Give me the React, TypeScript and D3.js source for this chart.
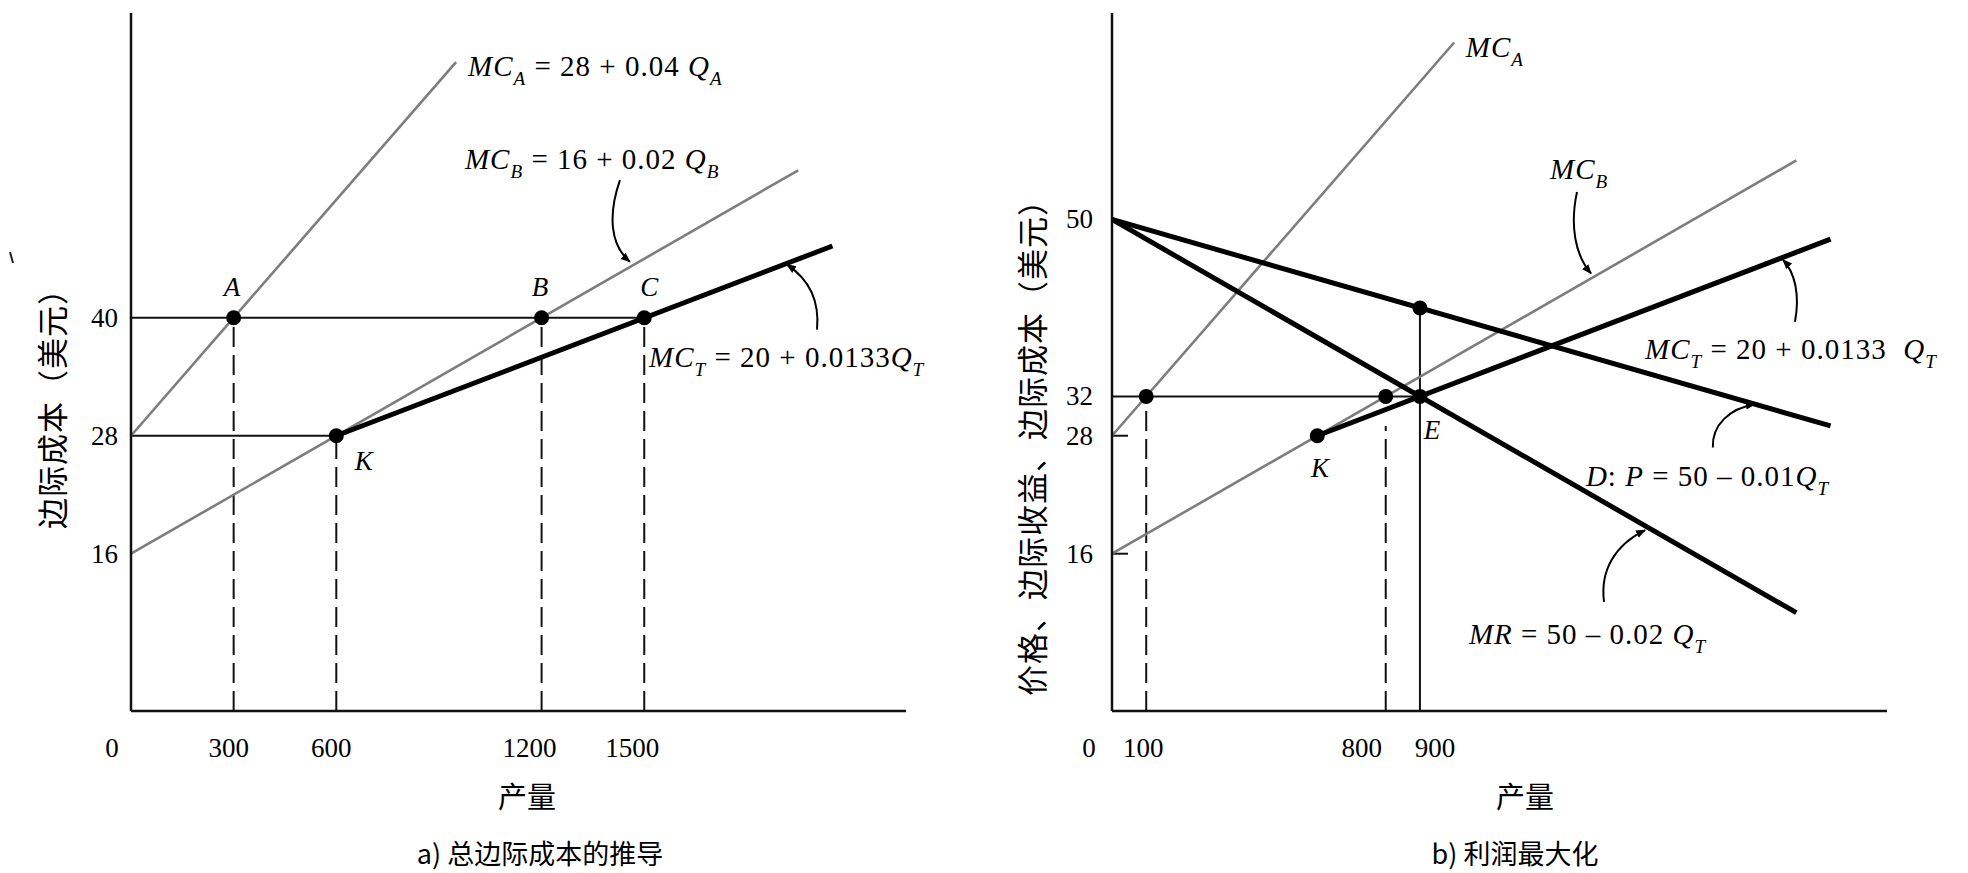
import * as d3 from 'd3';

// axis extents (same for both panels)
const Q_MAX = 2265;
const P_MAX = 71;

// panel a) tick labels
const qTicksA = [0, 300, 600, 1200, 1500];
const pTicksA = [16, 28, 40];
// panel b) tick labels
const qTicksB = [0, 100, 800, 900];
const pTicksB = [16, 28, 32, 50];

// curves, as [Q, P] end points
const mcA_a: [number, number][] = [[0, 28], [950, 66]];
const mcB_a: [number, number][] = [[0, 16], [1950, 55]];
const mcT_a: [number, number][] = [[600, 28], [2050, 47.3]];

const mcA_b: [number, number][] = [[0, 28], [1000, 68]];
const mcB_b: [number, number][] = [[0, 16], [2000, 56]];
const mcT_b: [number, number][] = [[600, 28], [2100, 48]];
const demand_b: [number, number][] = [[0, 50], [2100, 29]];
const mr_b: [number, number][] = [[0, 50], [2000, 10]];

// points
const pointsA = [
  { name: 'A', q: 300, p: 40 },
  { name: 'B', q: 1200, p: 40 },
  { name: 'C', q: 1500, p: 40 },
  { name: 'K', q: 600, p: 28 },
];
const pointsB = [
  { name: '', q: 100, p: 32 },
  { name: '', q: 800, p: 32 },
  { name: 'E', q: 900, p: 32 },
  { name: 'K', q: 600, p: 28 },
  { name: '', q: 900, p: 41 },
];

// guide lines: horizontal [p, q to], vertical [q, p to]
const hGuidesA = [[40, 1500], [28, 600]];
const vDashedA = [[300, 40], [600, 28], [1200, 40], [1500, 40]];
const hGuidesB = [[32, 900]];
const vDashedB = [[100, 32], [800, 29]];
const vSolidB = [[900, 41]];
const smallTicksB = [28, 16];

type Part = { t: string; i?: boolean; sub?: boolean };

// annotations: [q, p] of text start / baseline
const notesA: { at: [number, number]; parts: Part[] }[] = [
  { at: [985, 64.6], parts: [{ t: 'MC', i: true }, { t: 'A', sub: true }, { t: ' = 28 + 0.04 ' }, { t: 'Q', i: true }, { t: 'A', sub: true }] },
  { at: [976, 55.1], parts: [{ t: 'MC', i: true }, { t: 'B', sub: true }, { t: ' = 16 + 0.02 ' }, { t: 'Q', i: true }, { t: 'B', sub: true }] },
  { at: [1514, 35.0], parts: [{ t: 'MC', i: true }, { t: 'T', sub: true }, { t: ' = 20 + 0.0133' }, { t: 'Q', i: true }, { t: 'T', sub: true }] },
];
const notesB: { at: [number, number]; parts: Part[] }[] = [
  { at: [1034, 66.5], parts: [{ t: 'MC', i: true }, { t: 'A', sub: true }] },
  { at: [1280, 54.1], parts: [{ t: 'MC', i: true }, { t: 'B', sub: true }] },
  { at: [1558, 35.8], parts: [{ t: 'MC', i: true }, { t: 'T', sub: true }, { t: ' = 20 + 0.0133  ' }, { t: 'Q', i: true }, { t: 'T', sub: true }] },
  { at: [1385, 22.9], parts: [{ t: 'D', i: true }, { t: ': ' }, { t: 'P', i: true }, { t: ' = 50 \u2013 0.01' }, { t: 'Q', i: true }, { t: 'T', sub: true }] },
  { at: [1043, 6.8], parts: [{ t: 'MR', i: true }, { t: ' = 50 \u2013 0.02 ' }, { t: 'Q', i: true }, { t: 'T', sub: true }] },
];

// curved pointer arrows: start, ctrl1, ctrl2, tip
const arrowsA: [number, number][][] = [
  [[1429, 54.0], [1394, 50.5], [1400, 47.4], [1458, 45.7]],
  [[2005, 38.8], [2013, 41.8], [1978, 44.0], [1917, 45.4]],
];
const arrowsB: [number, number][][] = [
  [[1359, 52.8], [1338, 49.4], [1353, 46.4], [1400, 44.5]],
  [[1996, 39.6], [2011, 42.3], [1996, 44.6], [1961, 45.9]],
  [[1756, 26.8], [1753, 29.1], [1806, 30.8], [1879, 31.2]],
  [[1438, 11.1], [1426, 14.3], [1470, 16.9], [1558, 18.4]],
];

const SERIF = '"Liberation Serif", "DejaVu Serif", serif';
const CJK = '"Noto Sans CJK SC", sans-serif';

const y = d3.scaleLinear().domain([0, P_MAX]).range([711, 13]);

const Eq = ({ x, yy, parts, size = 29 }: { x: number; yy: number; parts: Part[]; size?: number }) => {
  let shift = 0;
  return (
    <text x={x} y={yy} fontFamily={SERIF} fontSize={size} style={{ whiteSpace: 'pre' }} letterSpacing={1}>
      {parts.map((p, k) => {
        const target = p.sub ? size * 0.3 : 0;
        const dy = target - shift;
        shift = target;
        return (
          <tspan
            key={k}
            dy={dy}
            fontFamily={SERIF}
            fontStyle={p.i || p.sub ? 'italic' : 'normal'}
            fontSize={p.sub ? size * 0.66 : size}
          >
            {p.t}
          </tspan>
        );
      })}
    </text>
  );
};

interface PanelProps {
  x0: number;
  qTicks: number[];
  pTicks: number[];
  curvesThin: [number, number][][];
  curvesThick: [number, number][][];
  points: { name: string; q: number; p: number }[];
  hGuides: number[][];
  vDashed: number[][];
  vSolid: number[][];
  notes: { at: [number, number]; parts: Part[] }[];
  arrows: [number, number][][];
  pointLabelAt: (n: string, q: number, p: number) => [number, number];
  yTitle: string;
  yTitleX: number;
  yTitleY: number;
  caption: string;
  xTitleX: number;
  captionX: number;
  smallTicks: number[];
  tickLabelDx: (v: number) => number;
  yLabelX: number;
}

const Panel = (pr: PanelProps) => {
  const x = d3.scaleLinear().domain([0, Q_MAX]).range([pr.x0, pr.x0 + 775]);
  const line = d3.line<[number, number]>().x(d => x(d[0])).y(d => y(d[1]));
  const arrowPath = (a: [number, number][]) =>
    `M${x(a[0][0])},${y(a[0][1])} C${x(a[1][0])},${y(a[1][1])} ${x(a[2][0])},${y(a[2][1])} ${x(a[3][0])},${y(a[3][1])}`;
  return (
    <g>
      {/* guides */}
      {pr.hGuides.map(([p, q], i) => (
        <line key={'h' + i} x1={x(0)} x2={x(q)} y1={y(p)} y2={y(p)} stroke="#111" strokeWidth={2} />
      ))}
      {pr.vDashed.map(([q, p], i) => (
        <line key={'v' + i} x1={x(q)} x2={x(q)} y1={y(0)} y2={y(p)} stroke="#111" strokeWidth={2} strokeDasharray="20 8" />
      ))}
      {pr.vSolid.map(([q, p], i) => (
        <line key={'s' + i} x1={x(q)} x2={x(q)} y1={y(0)} y2={y(p)} stroke="#111" strokeWidth={2} />
      ))}
      {pr.smallTicks.map(p => (
        <line key={'t' + p} x1={x(0)} x2={x(0) + 16} y1={y(p)} y2={y(p)} stroke="#111" strokeWidth={2} />
      ))}
      {/* curves */}
      {pr.curvesThin.map((c, i) => (
        <path key={'c' + i} d={line(c)!} stroke="#7d7d7d" strokeWidth={2.6} fill="none" />
      ))}
      {pr.curvesThick.map((c, i) => (
        <path key={'k' + i} d={line(c)!} stroke="#000" strokeWidth={5} fill="none" />
      ))}
      {/* axes */}
      <line x1={x(0)} x2={x(0)} y1={y(0)} y2={y(P_MAX)} stroke="#111" strokeWidth={2.5} />
      <line x1={x(0)} x2={x(Q_MAX)} y1={y(0)} y2={y(0)} stroke="#111" strokeWidth={2.5} />
      {/* points */}
      {pr.points.map((d, i) => (
        <circle key={'p' + i} cx={x(d.q)} cy={y(d.p)} r={7.5} fill="#000" />
      ))}
      {pr.points.filter(d => d.name).map((d, i) => {
        const [lq, lp] = pr.pointLabelAt(d.name, d.q, d.p);
        return (
          <text key={'pl' + i} x={x(lq)} y={y(lp)} fontFamily={SERIF} fontStyle="italic" fontSize={27} textAnchor="middle">
            {d.name}
          </text>
        );
      })}
      {/* arrows */}
      {pr.arrows.map((a, i) => (
        <path key={'a' + i} d={arrowPath(a)} stroke="#000" strokeWidth={2} fill="none" markerEnd="url(#tip)" />
      ))}
      {/* notes */}
      {pr.notes.map((n, i) => (
        <Eq key={'n' + i} x={x(n.at[0])} yy={y(n.at[1])} parts={n.parts} />
      ))}
      {/* tick labels */}
      {pr.qTicks.map(v => (
        <text key={'qt' + v} x={x(v) + pr.tickLabelDx(v)} y={757} fontFamily={SERIF} fontSize={27} textAnchor="middle">
          {v}
        </text>
      ))}
      {pr.pTicks.map(v => (
        <text key={'pt' + v} x={pr.yLabelX} y={y(v) + 9} fontFamily={SERIF} fontSize={27} textAnchor="end">
          {v}
        </text>
      ))}
      {/* titles */}
      <text x={pr.xTitleX} y={808} fontFamily={CJK} fontSize={29} textAnchor="middle">产量</text>
      <text x={pr.captionX} y={864} fontFamily={CJK} fontSize={27} textAnchor="middle">{pr.caption}</text>
      <text
        transform={`translate(${pr.yTitleX},${pr.yTitleY}) rotate(-90)`}
        fontFamily={CJK}
        fontSize={31}
        letterSpacing={1}
        textAnchor="middle"
        dominantBaseline="central"
      >
        {pr.yTitle}
      </text>
    </g>
  );
};

export default function App() {
  return (
    <svg width={1968} height={873} style={{ position: 'absolute', left: 0, top: 0, background: '#fff' }}>
      <defs>
        <marker id="tip" viewBox="0 0 10 10" refX="9" refY="5" markerWidth="5" markerHeight="5" orient="auto">
          <path d="M0,1 L10,5 L0,9 Z" fill="#000" />
        </marker>
      </defs>
      <rect width={1968} height={873} fill="#fff" />
      <Panel
        x0={131}
        qTicks={qTicksA}
        pTicks={pTicksA}
        curvesThin={[mcA_a, mcB_a]}
        curvesThick={[mcT_a]}
        points={pointsA}
        hGuides={hGuidesA}
        vDashed={vDashedA}
        vSolid={[]}
        notes={notesA}
        arrows={arrowsA}
        pointLabelAt={(n, q, p) => (n === 'K' ? [q + 80, p - 3.5] : [q - 5 + (n === 'C' ? 20 : 0), p + 2.2])}
        yTitle="边际成本（美元）"
        yTitleX={50}
        yTitleY={401}
        caption="a) 总边际成本的推导"
        xTitleX={527}
        captionX={540}
        smallTicks={[]}
        tickLabelDx={v => (v === 0 ? -19 : v >= 1200 ? -12 : -5)}
        yLabelX={118}
      />
      <Panel
        x0={1112}
        qTicks={qTicksB}
        pTicks={pTicksB}
        curvesThin={[mcA_b, mcB_b]}
        curvesThick={[mcT_b, demand_b, mr_b]}
        points={pointsB}
        hGuides={hGuidesB}
        vDashed={vDashedB}
        vSolid={vSolidB}
        notes={notesB}
        arrows={arrowsB}
        pointLabelAt={(n, q, p) => (n === 'K' ? [q + 8, p - 4.2] : [q + 35, p - 4.3])}
        yTitle="价格、边际收益、边际成本（美元）"
        yTitleX={1030}
        yTitleY={440}
        caption="b) 利润最大化"
        xTitleX={1525}
        captionX={1515}
        smallTicks={smallTicksB}
        tickLabelDx={v => (v === 0 ? -23 : v === 800 ? -24 : v === 900 ? 15 : -3)}
        yLabelX={1093}
      />
      <line x1={10} y1={252} x2={13} y2={263} stroke="#222" strokeWidth={2} />
    </svg>
  );
}
